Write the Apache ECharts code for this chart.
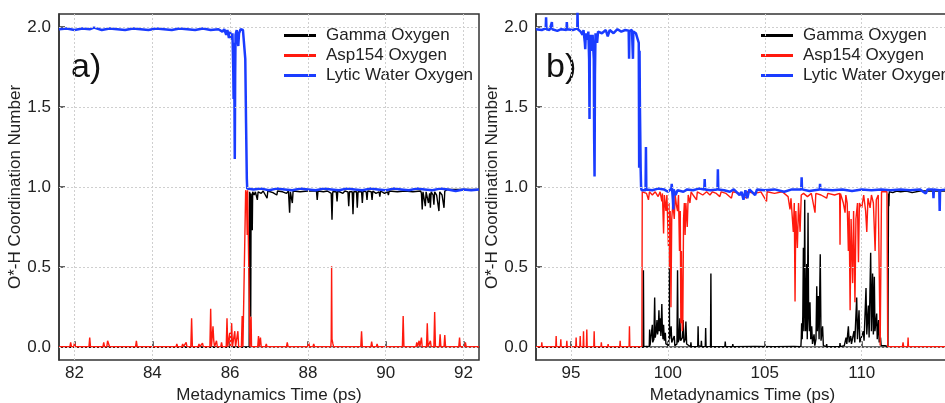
<!DOCTYPE html>
<html><head><meta charset="utf-8">
<script src="https://cdn.jsdelivr.net/npm/echarts@6/dist/echarts.min.js"></script>
<style>html,body{margin:0;padding:0;background:#fff}#c{width:945px;height:403px}</style>
</head><body><div id="c"></div>
<script>
// ---- data (time in ps, O*-H coordination number) ----
const seriesNames = ['Gamma Oxygen', 'Asp154 Oxygen', 'Lytic Water Oxygen'];
const yTicks = [0, 0.5, 1.0, 1.5, 2.0];
const aXTicks = [82, 84, 86, 88, 90, 92];
const bXTicks = [95, 100, 105, 110];
const panelLabels = ['a)', 'b)'];

const aWater = [[81.6,1.985],[81.8,1.99],[82.0,1.98],[82.2,1.99],[82.4,1.985],[82.5,1.995],[82.7,1.98],[82.9,1.99],[83.1,1.985],[83.3,1.98],[83.5,1.99],[83.7,1.985],[83.9,1.98],[84.1,1.99],[84.3,1.985],[84.5,1.98],[84.7,1.99],[84.9,1.985],[85.1,1.98],[85.3,1.99],[85.5,1.98],[85.7,1.985],[85.8,1.97],[85.85,1.985],[85.9,1.95],[85.93,1.98],[85.97,1.93],[86.0,1.97],[86.03,1.92],[86.06,1.96],[86.08,1.75],[86.09,1.55],[86.1,1.9],[86.11,1.6],[86.12,1.175],[86.13,1.7],[86.14,1.95],[86.17,1.98],[86.19,1.92],[86.21,1.88],[86.23,1.96],[86.27,1.985],[86.33,1.98],[86.37,1.97],[86.39,1.8],[86.41,1.4],[86.43,1.05],[86.44,0.99],[86.6,0.985],[86.8,0.99],[87.0,0.98],[87.2,0.99],[87.4,0.985],[87.6,0.98],[87.8,0.99],[88.0,0.985],[88.2,0.98],[88.4,0.99],[88.6,0.985],[88.8,0.98],[89.0,0.99],[89.2,0.985],[89.4,0.98],[89.6,0.99],[89.8,0.985],[90.0,0.98],[90.2,0.99],[90.4,0.985],[90.6,0.98],[90.8,0.99],[91.0,0.985],[91.2,0.98],[91.4,0.99],[91.6,0.985],[91.8,0.975],[92.0,0.985],[92.2,0.98],[92.4,0.985]];

const aAsp = [[81.6,0.003],[81.88,0.003],[81.9,0.03],[81.92,0.003],[81.98,0.003],[82.0,0.03],[82.02,0.003],[82.37,0.003],[82.39,0.06],[82.41,0.003],[82.73,0.003],[82.75,0.03],[82.77,0.003],[82.83,0.003],[82.85,0.04],[82.88,0.035],[82.9,0.003],[83.57,0.003],[83.59,0.04],[83.61,0.003],[84.18,0.003],[84.2,0.015],[84.22,0.003],[84.61,0.003],[84.63,0.02],[84.65,0.003],[84.76,0.003],[84.78,0.02],[84.8,0.003],[84.85,0.003],[84.87,0.03],[84.89,0.003],[84.99,0.003],[85.01,0.18],[85.03,0.003],[85.18,0.003],[85.2,0.02],[85.22,0.003],[85.27,0.003],[85.29,0.025],[85.31,0.003],[85.48,0.003],[85.5,0.24],[85.52,0.003],[85.54,0.003],[85.56,0.13],[85.58,0.04],[85.6,0.003],[85.63,0.003],[85.65,0.04],[85.67,0.003],[85.76,0.003],[85.78,0.03],[85.8,0.003],[85.9,0.003],[85.92,0.18],[85.94,0.003],[85.97,0.003],[85.99,0.09],[86.01,0.003],[86.02,0.003],[86.04,0.15],[86.06,0.003],[86.1,0.003],[86.12,0.1],[86.14,0.003],[86.18,0.003],[86.2,0.1],[86.22,0.003],[86.29,0.003],[86.31,0.195],[86.33,0.003],[86.38,0.003],[86.4,0.98],[86.42,0.96],[86.44,0.7],[86.45,0.98],[86.48,0.97],[86.5,0.98],[86.51,0.003],[86.53,0.003],[86.54,0.19],[86.55,0.003],[86.71,0.003],[86.73,0.07],[86.75,0.003],[86.76,0.003],[86.78,0.06],[86.8,0.003],[86.91,0.003],[86.93,0.02],[86.95,0.003],[87.45,0.003],[87.47,0.03],[87.49,0.003],[88.0,0.003],[88.02,0.03],[88.04,0.003],[88.13,0.003],[88.15,0.02],[88.17,0.003],[88.59,0.003],[88.6,0.05],[88.61,0.505],[88.62,0.05],[88.64,0.025],[88.66,0.003],[89.36,0.003],[89.38,0.1],[89.4,0.003],[89.62,0.003],[89.64,0.035],[89.66,0.003],[89.76,0.003],[89.78,0.02],[89.8,0.003],[90.43,0.003],[90.45,0.195],[90.47,0.003],[90.78,0.003],[90.8,0.03],[90.82,0.003],[90.84,0.003],[90.86,0.04],[90.88,0.003],[90.9,0.003],[90.92,0.06],[90.94,0.003],[91.05,0.003],[91.07,0.15],[91.09,0.003],[91.13,0.003],[91.15,0.04],[91.17,0.003],[91.24,0.003],[91.26,0.22],[91.28,0.003],[91.38,0.003],[91.4,0.08],[91.42,0.003],[91.5,0.003],[91.52,0.075],[91.54,0.003],[91.88,0.003],[91.9,0.06],[91.92,0.003],[92.03,0.003],[92.05,0.03],[92.07,0.003],[92.4,0.003]];

const aGamma = [[81.6,0.0],[86.49,0.0],[86.5,0.97],[86.52,0.95],[86.53,0.19],[86.54,0.96],[86.56,0.97],[86.57,0.73],[86.58,0.97],[86.62,0.95],[86.65,0.97],[86.7,0.92],[86.72,0.97],[86.8,0.96],[86.85,0.975],[86.95,0.93],[86.97,0.975],[87.1,0.965],[87.2,0.95],[87.22,0.975],[87.35,0.97],[87.45,0.96],[87.5,0.975],[87.53,0.84],[87.55,0.97],[87.6,0.9],[87.62,0.975],[87.8,0.97],[88.0,0.975],[88.22,0.975],[88.24,0.92],[88.26,0.975],[88.4,0.97],[88.5,0.975],[88.6,0.96],[88.62,0.795],[88.64,0.97],[88.73,0.97],[88.75,0.91],[88.77,0.975],[88.9,0.96],[88.95,0.975],[89.03,0.97],[89.05,0.88],[89.07,0.97],[89.14,0.97],[89.16,0.83],[89.18,0.97],[89.25,0.97],[89.27,0.87],[89.29,0.97],[89.38,0.97],[89.4,0.9],[89.42,0.975],[89.5,0.97],[89.52,0.92],[89.54,0.975],[89.63,0.97],[89.65,0.92],[89.67,0.975],[89.75,0.96],[89.83,0.97],[89.85,0.94],[89.87,0.975],[89.97,0.96],[90.05,0.97],[90.07,0.95],[90.09,0.975],[90.3,0.97],[90.5,0.975],[90.7,0.97],[90.9,0.975],[90.92,0.96],[90.94,0.86],[90.96,0.97],[91.0,0.96],[91.02,0.88],[91.04,0.97],[91.08,0.96],[91.1,0.9],[91.13,0.96],[91.15,0.87],[91.17,0.97],[91.22,0.95],[91.24,0.89],[91.26,0.97],[91.31,0.95],[91.35,0.96],[91.37,0.85],[91.39,0.97],[91.45,0.95],[91.48,0.96],[91.5,0.87],[91.52,0.975],[91.6,0.985],[92.4,0.985]];

const bWater = [[93.2,1.985],[93.5,1.98],[93.7,1.99],[93.72,2.06],[93.74,1.985],[93.9,1.98],[94.0,1.99],[94.02,2.03],[94.04,1.985],[94.3,1.975],[94.5,1.985],[94.77,1.98],[94.79,2.03],[94.81,1.985],[95.1,1.98],[95.33,1.99],[95.34,2.1],[95.36,1.985],[95.5,1.97],[95.6,1.95],[95.65,1.98],[95.72,1.9],[95.74,1.86],[95.77,1.96],[95.85,1.92],[95.9,1.97],[95.94,1.8],[95.96,1.425],[95.98,1.9],[96.04,1.95],[96.08,1.85],[96.12,1.95],[96.18,1.8],[96.2,1.3],[96.22,1.066],[96.24,1.7],[96.27,1.96],[96.35,1.9],[96.4,1.97],[96.6,1.96],[96.8,1.98],[96.9,1.94],[97.0,1.98],[97.2,1.96],[97.4,1.985],[97.6,1.97],[97.8,1.98],[97.98,1.975],[98.0,1.8],[98.02,1.975],[98.15,1.98],[98.2,1.8],[98.22,1.97],[98.35,1.96],[98.45,1.97],[98.5,1.9],[98.52,1.12],[98.54,1.85],[98.56,1.5],[98.6,1.1],[98.62,1.0],[98.64,0.98],[98.85,0.98],[98.87,1.25],[98.89,0.985],[99.2,0.98],[99.5,0.99],[99.8,0.985],[100.0,0.97],[100.18,0.99],[100.2,1.02],[100.22,0.985],[100.26,0.92],[100.28,0.86],[100.3,0.985],[100.4,0.95],[100.5,0.98],[100.8,0.97],[101.0,0.985],[101.3,0.98],[101.6,0.99],[101.88,0.985],[101.9,1.05],[101.92,0.985],[102.2,0.98],[102.56,0.985],[102.58,1.11],[102.6,0.985],[102.9,0.98],[103.2,0.97],[103.4,0.985],[103.7,0.95],[103.8,0.97],[103.9,0.92],[104.0,0.98],[104.1,0.93],[104.2,0.985],[104.5,0.95],[104.6,0.985],[105.0,0.98],[105.5,0.985],[106.0,0.97],[106.4,0.985],[106.88,0.985],[106.9,1.06],[106.92,0.985],[107.3,0.975],[107.83,0.985],[107.85,1.02],[107.87,0.985],[108.5,0.98],[109.0,0.985],[109.5,0.975],[110.0,0.985],[110.5,0.98],[111.0,0.985],[111.5,0.98],[112.0,0.985],[112.5,0.98],[113.0,0.985],[113.3,0.96],[113.4,0.985],[113.68,0.985],[113.7,0.93],[113.72,0.985],[114.0,0.98],[114.02,0.85],[114.04,0.98],[114.5,0.985]];

const bAsp = [[93.2,0.003],[93.48,0.003],[93.5,0.03],[93.52,0.003],[94.22,0.003],[94.24,0.07],[94.26,0.003],[94.46,0.003],[94.48,0.05],[94.5,0.003],[94.77,0.003],[94.79,0.04],[94.81,0.003],[95.25,0.003],[95.27,0.06],[95.29,0.003],[95.46,0.003],[95.48,0.07],[95.5,0.003],[95.63,0.003],[95.65,0.1],[95.67,0.003],[95.8,0.003],[95.82,0.11],[95.84,0.003],[96.18,0.003],[96.2,0.1],[96.22,0.003],[96.55,0.003],[96.57,0.03],[96.59,0.003],[96.9,0.003],[96.92,0.02],[96.94,0.003],[97.52,0.003],[97.54,0.04],[97.56,0.003],[98.0,0.003],[98.02,0.13],[98.04,0.003],[98.66,0.003],[98.68,0.97],[98.9,0.96],[99.0,0.92],[99.05,0.97],[99.2,0.95],[99.35,0.97],[99.5,0.94],[99.6,0.97],[99.69,0.91],[99.72,0.96],[99.78,0.71],[99.82,0.95],[99.9,0.85],[99.95,0.95],[100.03,0.63],[100.06,0.9],[100.08,0.49],[100.12,0.85],[100.16,0.25],[100.2,0.8],[100.26,0.9],[100.33,0.8],[100.38,0.95],[100.45,0.88],[100.5,0.85],[100.55,0.95],[100.6,0.6],[100.64,0.85],[100.67,0.15],[100.7,0.6],[100.74,0.1],[100.77,0.13],[100.81,0.8],[100.85,0.9],[100.89,0.7],[100.93,0.9],[101.0,0.75],[101.05,0.95],[101.14,0.9],[101.2,0.97],[101.3,0.95],[101.48,0.92],[101.52,0.97],[101.8,0.95],[102.0,0.97],[102.17,0.95],[102.3,0.97],[102.5,0.96],[102.68,0.94],[102.75,0.97],[103.0,0.96],[103.28,0.93],[103.35,0.97],[103.7,0.96],[104.06,0.93],[104.1,0.97],[104.5,0.96],[104.8,0.97],[105.09,0.91],[105.12,0.97],[105.5,0.96],[105.9,0.97],[106.2,0.94],[106.3,0.86],[106.35,0.93],[106.47,0.72],[106.52,0.9],[106.56,0.285],[106.6,0.85],[106.68,0.62],[106.74,0.9],[106.82,0.72],[106.88,0.95],[107.0,0.96],[107.2,0.94],[107.4,0.96],[107.59,0.84],[107.63,0.96],[107.9,0.95],[108.19,0.93],[108.25,0.96],[108.6,0.95],[108.86,0.96],[108.88,0.64],[108.9,0.96],[109.05,0.9],[109.14,0.84],[109.18,0.95],[109.25,0.9],[109.31,0.6],[109.35,0.85],[109.4,0.23],[109.45,0.8],[109.53,0.4],[109.58,0.85],[109.65,0.28],[109.7,0.8],[109.78,0.9],[109.83,0.53],[109.88,0.9],[110.0,0.87],[110.1,0.95],[110.2,0.85],[110.26,0.72],[110.32,0.93],[110.43,0.87],[110.5,0.95],[110.6,0.9],[110.69,0.6],[110.75,0.92],[110.85,0.95],[110.93,0.96],[110.95,0.01],[111.0,0.01],[111.02,0.97],[111.3,0.97],[111.34,0.003],[111.36,0.003],[112.1,0.003],[112.13,0.03],[112.16,0.003],[112.37,0.003],[112.39,0.06],[112.41,0.003],[114.5,0.003]];

const bGamma = [[93.2,0.0],[98.72,0.0],[98.74,0.48],[98.76,0.003],[98.9,0.005],[99.04,0.003],[99.06,0.11],[99.08,0.01],[99.18,0.02],[99.2,0.14],[99.22,0.03],[99.28,0.05],[99.32,0.31],[99.35,0.06],[99.4,0.1],[99.44,0.17],[99.47,0.08],[99.51,0.12],[99.54,0.23],[99.57,0.1],[99.61,0.18],[99.64,0.07],[99.69,0.27],[99.72,0.1],[99.75,0.05],[99.78,0.14],[99.82,0.04],[99.87,0.09],[99.9,0.02],[99.98,0.03],[100.05,0.01],[100.07,0.5],[100.09,0.05],[100.17,0.13],[100.2,0.03],[100.33,0.07],[100.36,0.01],[100.47,0.02],[100.5,0.48],[100.53,0.03],[100.58,0.05],[100.62,0.18],[100.66,0.04],[100.75,0.06],[100.79,0.17],[100.83,0.03],[100.9,0.05],[100.93,0.16],[100.97,0.02],[101.17,0.003],[101.19,0.03],[101.21,0.003],[101.54,0.003],[101.56,0.13],[101.58,0.01],[101.71,0.003],[101.73,0.04],[101.75,0.003],[101.93,0.003],[101.95,0.12],[101.97,0.003],[102.2,0.003],[102.22,0.46],[102.24,0.003],[102.94,0.003],[102.96,0.035],[102.98,0.003],[103.33,0.003],[103.35,0.02],[103.37,0.003],[104.5,0.005],[105.5,0.003],[106.5,0.005],[106.86,0.003],[106.88,0.05],[106.9,0.15],[106.93,0.05],[106.96,0.2],[106.99,0.62],[107.02,0.1],[107.06,0.92],[107.08,0.3],[107.11,0.1],[107.16,0.52],[107.19,0.05],[107.23,0.84],[107.26,0.2],[107.3,0.1],[107.33,0.28],[107.37,0.05],[107.42,0.13],[107.46,0.02],[107.54,0.08],[107.58,0.01],[107.64,0.05],[107.68,0.38],[107.71,0.1],[107.76,0.32],[107.8,0.05],[107.86,0.58],[107.9,0.04],[107.98,0.13],[108.02,0.01],[108.17,0.003],[108.19,0.02],[108.21,0.003],[108.86,0.003],[108.88,0.025],[108.9,0.003],[109.1,0.01],[109.19,0.06],[109.23,0.02],[109.31,0.13],[109.35,0.03],[109.43,0.07],[109.47,0.02],[109.6,0.1],[109.64,0.03],[109.74,0.31],[109.78,0.05],[109.86,0.23],[109.9,0.03],[109.96,0.04],[110.0,0.02],[110.08,0.1],[110.12,0.04],[110.22,0.37],[110.26,0.08],[110.34,0.26],[110.38,0.06],[110.46,0.59],[110.5,0.1],[110.56,0.46],[110.6,0.08],[110.65,0.44],[110.68,0.1],[110.77,0.21],[110.8,0.05],[110.87,0.17],[110.9,0.03],[110.97,0.06],[111.0,0.01],[111.2,0.01],[111.35,0.003],[111.38,0.96],[111.4,0.88],[111.42,0.97],[111.6,0.965],[111.8,0.975],[112.0,0.97],[112.3,0.975],[112.6,0.965],[113.0,0.975],[114.5,0.975]];

// ---- chart ----
const FONT = '"Liberation Sans", Arial, Helvetica, sans-serif';
const INK = '#222';
const FS = 17;
const colors = ['#000000', '#ff1a0e', '#1a3cff'];
const widths = [1.4, 1.4, 2.5];

function xAxisCfg(gi, min, max, ticks) {
  return {
    type: 'value', gridIndex: gi, min: min, max: max,
    name: 'Metadynamics Time (ps)', nameLocation: 'middle', nameGap: 26,
    nameTextStyle: { fontFamily: FONT, fontSize: FS, color: INK },
    axisLine: { show: true, lineStyle: { color: '#333', width: 1.5 } },
    axisTick: { show: true, inside: true, length: 6, customValues: ticks, lineStyle: { color: '#333', width: 1.5 } },
    axisLabel: { customValues: ticks, fontFamily: FONT, fontSize: FS, color: INK, margin: 5, formatter: v => String(v) },
    splitLine: { show: false }
  };
}
function yAxisCfg(gi) {
  return {
    type: 'value', gridIndex: gi, min: -0.08, max: 2.08,
    name: 'O*-H Coordination Number', nameLocation: 'middle', nameGap: 28,
    nameTextStyle: { fontFamily: FONT, fontSize: FS, color: INK },
    axisLine: { show: true, lineStyle: { color: '#333', width: 1.5 } },
    axisTick: { show: true, inside: true, length: 6, customValues: yTicks, lineStyle: { color: '#333', width: 1.5 } },
    axisLabel: { customValues: yTicks, fontFamily: FONT, fontSize: FS, color: INK, margin: 8, formatter: v => v.toFixed(1) },
    splitLine: { show: false }
  };
}
function gridLineSeries(gi, xt) {
  return {
    type: 'line', xAxisIndex: gi, yAxisIndex: gi, data: [], silent: true, z: 1,
    markLine: {
      silent: true, symbol: ['none', 'none'], label: { show: false }, animation: false,
      lineStyle: { color: '#cfcfcf', type: [2, 2], width: 1 },
      emphasis: { disabled: true },
      data: yTicks.map(v => ({ yAxis: v })).concat(xt.map(v => ({ xAxis: v })))
    }
  };
}
function dataSeries(gi, arrs) {
  return arrs.map((d, i) => ({
    type: 'line', name: seriesNames[i], xAxisIndex: gi, yAxisIndex: gi,
    data: d, showSymbol: false, symbol: 'none', z: 2 + i,
    lineStyle: { color: colors[i], width: widths[i] }, itemStyle: { color: colors[i] },
    emphasis: { disabled: true }
  }));
}
function legendCfg(left) {
  return {
    left: left, top: 22, orient: 'vertical', itemWidth: 32, itemHeight: 3, itemGap: 3,
    selectedMode: false,
    data: seriesNames.map((n, i) => ({ name: n, icon: 'rect', itemStyle: { color: colors[i], borderWidth: 0, opacity: 1 } })),
    textStyle: { fontFamily: FONT, fontSize: FS, color: INK, padding: [0, 0, 0, 5] }
  };
}

const chart = echarts.init(document.getElementById('c'), null, { renderer: 'canvas' });
chart.setOption({
  animation: false,
  backgroundColor: '#fff',
  grid: [
    { left: 59, right: 466, top: 14, bottom: 43, outerBoundsMode: 'none', containLabel: false, show: true, borderColor: '#333', borderWidth: 1.5, backgroundColor: 'transparent' },
    { left: 536, right: -4, top: 14, bottom: 43, outerBoundsMode: 'none', containLabel: false, show: true, borderColor: '#333', borderWidth: 1.5, backgroundColor: 'transparent' }
  ],
  xAxis: [xAxisCfg(0, 81.6, 92.4, aXTicks), xAxisCfg(1, 93.2, 114.5, bXTicks)],
  yAxis: [yAxisCfg(0), yAxisCfg(1)],
  legend: [legendCfg(279), legendCfg(756)],
  graphic: [
    { type: 'text', left: 71, top: 51, style: { text: panelLabels[0], font: '34px ' + FONT, fill: '#111' } },
    { type: 'text', left: 546, top: 51, style: { text: panelLabels[1], font: '34px ' + FONT, fill: '#111' } }
  ],
  series: [gridLineSeries(0, aXTicks), gridLineSeries(1, bXTicks)]
    .concat(dataSeries(0, [aGamma, aAsp, aWater]))
    .concat(dataSeries(1, [bGamma, bAsp, bWater]))
});
</script>
</body></html>
